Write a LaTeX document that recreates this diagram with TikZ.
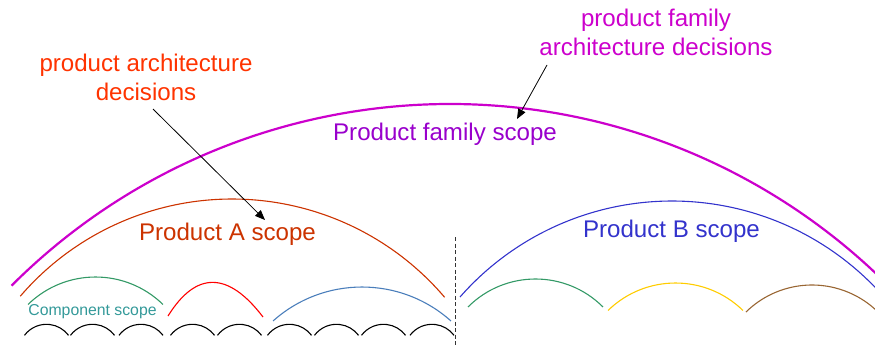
\documentclass[tikz,border=0pt]{standalone}
\usepackage{fontspec}
\setmainfont{Liberation Sans}
\usetikzlibrary{arrows.meta}
\definecolor{famarc}{HTML}{CC00CC}
\definecolor{famtext}{HTML}{9900CC}
\definecolor{archred}{HTML}{FF3300}
\definecolor{prodA}{HTML}{CC3300}
\definecolor{prodB}{HTML}{3333CC}
\definecolor{compgreen}{HTML}{339966}
\definecolor{comptext}{HTML}{339999}
\definecolor{compred}{HTML}{FF0000}
\definecolor{compblue}{HTML}{4A7EBB}
\definecolor{compyellow}{HTML}{FFCC00}
\definecolor{compbrown}{HTML}{996633}
\tikzset{
  bigtext/.style={inner sep=0pt, font=\fontsize{24.1}{28.5}\selectfont},
  smalltext/.style={inner sep=0pt, font=\fontsize{15.8}{19}\selectfont},
  scopearc/.style={line width=1.1pt},
  famline/.style={line width=2.2pt, draw=famarc},
  pointer/.style={line width=0.8pt, -{Triangle[length=10pt,width=8pt]}},
  divider/.style={line width=0.9pt, dash pattern=on 4pt off 2.5pt, draw=black!80}
}
\begin{document}
\begin{tikzpicture}[x=1pt,y=-1pt]
\path[use as bounding box, clip] (0,0) rectangle (875,346);

% product family scope
\draw[famline] (450,724) ++(-135:620) arc[start angle=-135, end angle=-42, radius=620];
% product A / B scopes
\draw[scopearc, prodA] (232,478.2) ++(-139.3:279.2) arc[start angle=-139.3, end angle=-40.4, radius=279.2];
\draw[scopearc, prodB] (672,483.1) ++(-138.7:282.1) arc[start angle=-138.7, end angle=-38, radius=282.1];

% component scopes
\draw[scopearc, compgreen] (95.5,373.6) ++(-134.3:96.6) arc[start angle=-134.3, end angle=-45.7, radius=96.6];
\draw[scopearc, compred] (168,316) .. controls (196,271) and (228,271) .. (263,317);
\draw[scopearc, compblue] (362,420.5) ++(-131.8:133.5) arc[start angle=-131.8, end angle=-48.2, radius=133.5];
\draw[scopearc, compgreen] (535.5,374.4) ++(-135:95.4) arc[start angle=-135, end angle=-45, radius=95.4];
\draw[scopearc, compyellow] (675.5,379.6) ++(-134.3:96.6) arc[start angle=-134.3, end angle=-45.7, radius=96.6];
\draw[scopearc, compbrown] (812,379.2) ++(-134.5:94.2) arc[start angle=-134.5, end angle=-38, radius=94.2];

% small black arcs
\foreach \cx in {46.5,92.5,141,192.5,239.5,289.5,336.5,383.5,432}
  \draw[scopearc, black] (\cx,351.8) ++(-143.1:27.5) arc[start angle=-143.1, end angle=-36.9, radius=27.5];

% divider
\coordinate (divtop) at (455,237);
\coordinate (divbot) at (455,346);
\draw[divider] (divtop) -- (divbot);

% labels (base anchor = baseline of the last line)
\node[bigtext, text=archred, align=center, anchor=base] (pad) at (146,100) {product architecture\\decisions};
\node[bigtext, text=famarc, align=center, anchor=base] (pfad) at (656,55) {product family\\architecture decisions};
\node[bigtext, text=famtext, anchor=base] (pfs) at (445,140) {Product family scope};
\node[bigtext, text=prodA, anchor=base] (pas) at (227.5,240.5) {Product A scope};
\node[bigtext, text=prodB, anchor=base] (pbs) at (671.5,237.5) {Product B scope};
\node[smalltext, text=comptext, anchor=base] (cs) at (92.5,315) {Component scope};

% pointers
\coordinate (padstart) at (153,109);
\coordinate (padend) at (265,220);
\coordinate (pfadstart) at (547,65);
\coordinate (pfadend) at (517,119);
\draw[pointer] (padstart) -- (padend);
\draw[pointer] (pfadstart) -- (pfadend);
\end{tikzpicture}
\end{document}
